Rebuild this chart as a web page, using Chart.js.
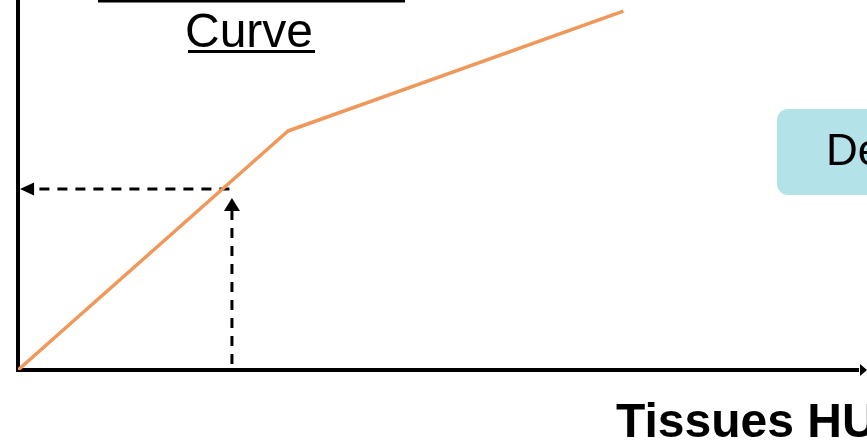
<!DOCTYPE html>
<html>
<head>
<meta charset="utf-8">
<style>
  html, body { margin: 0; padding: 0; background: #ffffff; }
  #wrap { position: relative; width: 867px; height: 442px; overflow: hidden; }
  canvas { display: block; }
</style>
<script src="https://cdn.jsdelivr.net/npm/chart.js@4"></script>
</head>
<body>
<div id="wrap"><canvas id="chart" width="867" height="442"></canvas></div>
<script>
// Calibration curve: tissue HU (x) against the converted value (y), arbitrary units
const curveHU = [0, 31.8, 71.3];
const curveValue = [0, 64.6, 97.0];

// Look-up example: read a tissue HU up to the curve, then across to the value axis
const lookupHU = 25.2;
const lookupValue = 48.9;
const lookupUp = [1.6, 46.5];      // vertical arrow: start value, tip value
const lookupAcross = [24.9, 0.24]; // horizontal arrow: start HU, tip HU

const titleText = 'Curve';
const xAxisTitle = 'Tissues HU';
const sideBoxText = 'De';

const FONT = '"Liberation Sans", Arial, Helvetica, sans-serif';
const ORANGE = '#F0975A';

function arrowHead(ctx, tipX, tipY, dirX, dirY, len, half) {
  const bx = tipX - dirX * len, by = tipY - dirY * len;
  const px = -dirY, py = dirX;
  ctx.beginPath();
  ctx.moveTo(tipX, tipY);
  ctx.lineTo(bx + px * half, by + py * half);
  ctx.lineTo(bx - px * half, by - py * half);
  ctx.closePath();
  ctx.fill();
}

const diagramPlugin = {
  id: 'diagram',
  beforeDatasetsDraw(chart) {
    const { ctx, chartArea, scales } = chart;
    const x = scales.x, y = scales.y;
    ctx.save();
    ctx.fillStyle = '#000';
    ctx.strokeStyle = '#000';

    // dashed look-up arrows
    ctx.lineWidth = 3;
    ctx.setLineDash([10, 8]);
    const vx = x.getPixelForValue(lookupHU);
    const vy0 = y.getPixelForValue(lookupUp[0]);
    const vyTip = y.getPixelForValue(lookupUp[1]);
    ctx.beginPath();
    ctx.moveTo(vx, vy0);
    ctx.lineTo(vx, vyTip + 13);
    ctx.stroke();

    const hy = y.getPixelForValue(lookupValue);
    const hx0 = x.getPixelForValue(lookupAcross[0]);
    const hxTip = x.getPixelForValue(lookupAcross[1]);
    ctx.beginPath();
    ctx.moveTo(hx0, hy);
    ctx.lineTo(hxTip + 14, hy);
    ctx.stroke();
    ctx.setLineDash([]);
    arrowHead(ctx, vx, vyTip, 0, -1, 13, 8);
    arrowHead(ctx, hxTip, hy, -1, 0, 14, 6.5);

    // axes
    ctx.fillRect(chartArea.left - 2, 0, 4, chartArea.bottom + 2);
    ctx.fillRect(chartArea.left - 2, chartArea.bottom - 2, chart.width - chartArea.left - 6, 4);
    arrowHead(ctx, chart.width, chartArea.bottom, 1, 0, 7, 6);
    ctx.restore();
  },
  afterDraw(chart) {
    const { ctx } = chart;
    ctx.save();
    ctx.fillStyle = '#000';

    // underline of the title line above (cut off by the frame)
    ctx.fillRect(98, 0, 307, 2.5);

    // title
    ctx.font = '48px ' + FONT;
    ctx.textBaseline = 'alphabetic';
    ctx.textAlign = 'left';
    ctx.fillText(titleText, 185, 47);
    ctx.fillRect(188, 50, 127, 3);

    // side box
    ctx.fillStyle = '#B4E2E9';
    ctx.beginPath();
    ctx.roundRect(777, 109, 120, 86, 11);
    ctx.fill();
    ctx.fillStyle = '#000';
    ctx.font = '44px ' + FONT;
    ctx.fillText(sideBoxText, 826, 165);

    // x-axis title
    ctx.font = 'bold 48px ' + FONT;
    ctx.fillText(xAxisTitle, 616, 437);
    ctx.restore();
  }
};

new Chart(document.getElementById('chart'), {
  type: 'scatter',
  data: {
    datasets: [{
      data: curveHU.map((v, i) => ({ x: v, y: curveValue[i] })),
      showLine: true,
      borderColor: ORANGE,
      borderWidth: 3.5,
      pointRadius: 0,
      tension: 0,
      borderJoinStyle: 'round'
    }]
  },
  options: {
    responsive: false,
    animation: false,
    layout: { padding: { left: 18, top: 0, right: 0, bottom: 72 } },
    plugins: { legend: { display: false }, tooltip: { enabled: false } },
    scales: {
      x: { type: 'linear', min: 0, max: 100, display: false },
      y: { type: 'linear', min: 0, max: 100, display: false }
    }
  },
  plugins: [diagramPlugin]
});
</script>
</body>
</html>
